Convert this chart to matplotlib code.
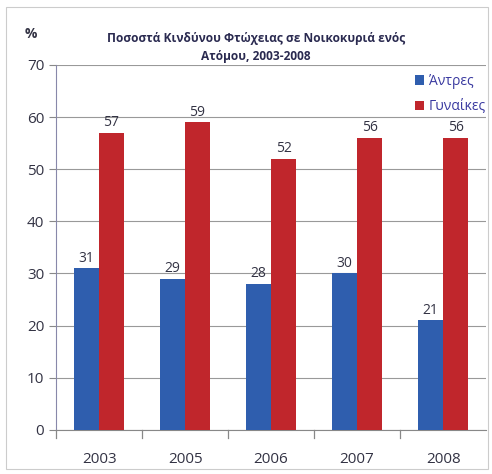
import matplotlib
matplotlib.use("Agg")
import matplotlib.pyplot as plt
from matplotlib.patches import Rectangle
import numpy as np

plt.rcParams['font.family'] = ['Open Sans', 'DejaVu Sans']

years = ["2003", "2005", "2006", "2007", "2008"]
men = [31, 29, 28, 30, 21]
women = [57, 59, 52, 56, 56]
series_names = ["Άντρες", "Γυναίκες"]
title = "Ποσοστά Κινδύνου Φτώχειας σε Νοικοκυριά ενός\nΑτόμου, 2003-2008"

blue = "#2f5eae"
red = "#c0262c"
txt = "#333344"

fig = plt.figure(figsize=(4.92, 4.74), dpi=100)
fig.patch.set_facecolor("white")
fig.patches.append(Rectangle((0.012, 0.01), 0.98, 0.975, transform=fig.transFigure,
                             fill=False, edgecolor="#cccccc", lw=0.8))
ax = fig.add_axes([0.114, 0.093, 0.874, 0.77])

x = np.arange(len(years))
w = 0.29
b1 = ax.bar(x - w/2, men, w, color=blue, label=series_names[0], zorder=3)
b2 = ax.bar(x + w/2, women, w, color=red, label=series_names[1], zorder=3)

for bars, vals in ((b1, men), (b2, women)):
    for r, v in zip(bars, vals):
        ax.text(r.get_x() + r.get_width()/2, v + 0.5, str(v), ha="center", va="bottom",
                fontsize=10, color=txt, zorder=6)

ax.set_ylim(0, 70)
ax.set_xlim(-0.5, len(years) - 0.5)
ax.set_yticks(range(0, 71, 10))
ax.set_xticks(x)
ax.set_xticklabels(years)
ax.tick_params(axis="y", length=5, colors="#888888", labelcolor=txt, labelsize=11)
ax.tick_params(axis="x", length=0, labelcolor=txt, labelsize=11, pad=16)
for xb in np.arange(0.5, len(years) - 0.5, 1):
    ax.plot([xb, xb], [0, -1.6], color="#888888", lw=0.9, clip_on=False)
ax.plot([-0.5, -0.5], [0, -1.6], color="#888888", lw=0.9, clip_on=False)
ax.yaxis.grid(True, color="#999999", lw=0.8, zorder=0)
ax.set_axisbelow(True)
for s in ["top", "right"]:
    ax.spines[s].set_visible(False)
ax.spines["left"].set_color("#8888aa")
ax.spines["bottom"].set_color("#888888")

leg = ax.legend(loc="upper right", bbox_to_anchor=(1.025, 1.006), frameon=False,
                fontsize=10, handlelength=0.7, handleheight=0.7, handletextpad=0.3,
                labelspacing=0.75, borderpad=0.3, labelcolor="#3a3aa0")
leg.set_zorder(5)

fig.text(0.52, 0.9, title, ha="center", va="center", fontsize=8.6, fontweight="bold",
         color="#2a2a50", linespacing=1.55)
fig.text(0.05, 0.928, "%", ha="left", va="center", fontsize=10, fontweight="bold", color=txt)

fig.savefig("out.png", dpi=100)
